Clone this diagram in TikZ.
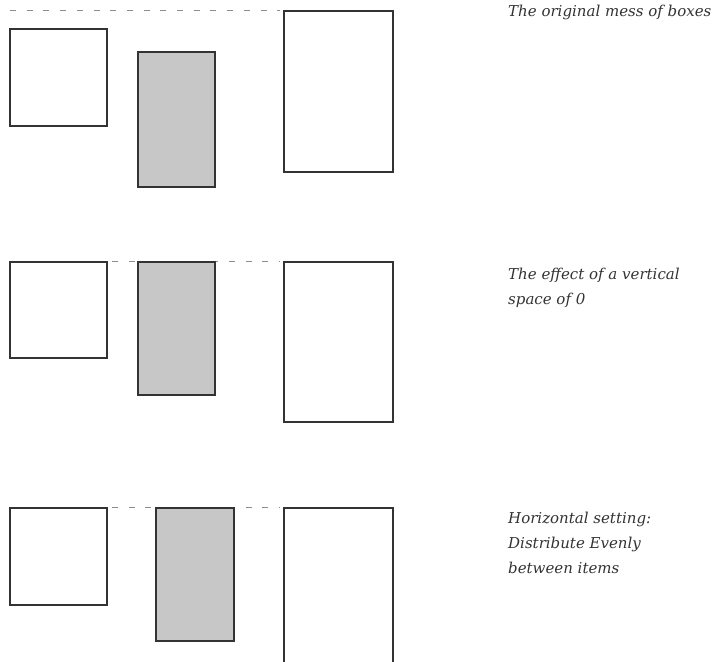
\documentclass[tikz,border=0pt]{standalone}
\usepackage{fontspec}
\setmainfont{DejaVu Serif}
\begin{document}
\begin{tikzpicture}[x=1pt,y=-1pt,
  box/.style={draw=black!80, line width=2.2pt, fill=white},
  shaded/.style={box, fill=black!22},
  guide/.style={draw=black!45, line width=0.9pt, dash pattern=on 6pt off 10.7pt},
  caption/.style={anchor=base west, inner sep=0pt, text=black!80,
    font=\itshape\fontsize{15}{25}\selectfont, align=left}]
\useasboundingbox (0,0) rectangle (719,661);
\clip (0,0) rectangle (719,661);

% first row: boxes as originally placed
\coordinate (g1s) at (10,10);
\coordinate (g1e) at (280,10);
\draw[guide] (g1s) -- (g1e);
\node[box, minimum width=97pt, minimum height=97pt, inner sep=0pt, anchor=north west] (a1) at (9,28) {};
\node[shaded, minimum width=77pt, minimum height=135pt, inner sep=0pt, anchor=north west] (b1) at (137,51) {};
\node[box, minimum width=109pt, minimum height=161pt, inner sep=0pt, anchor=north west] (c1) at (283,10) {};
\node[caption] (t1) at (508,17) {The original mess of boxes};

% second row: vertical space of 0 (base anchor sits on the last line)
\coordinate (g2s) at (112,261);
\coordinate (g2e) at (280,261);
\draw[guide] (g2s) -- (g2e);
\node[box, minimum width=97pt, minimum height=96pt, inner sep=0pt, anchor=north west] (a2) at (9,261) {};
\node[shaded, minimum width=77pt, minimum height=133pt, inner sep=0pt, anchor=north west] (b2) at (137,261) {};
\node[box, minimum width=109pt, minimum height=160pt, inner sep=0pt, anchor=north west] (c2) at (283,261) {};
\node[caption] (t2) at (508,304) {The effect of a vertical\\space of 0};

% third row: horizontal distribution
\coordinate (g3s) at (112,507);
\coordinate (g3e) at (280,507);
\draw[guide] (g3s) -- (g3e);
\node[box, minimum width=97pt, minimum height=97pt, inner sep=0pt, anchor=north west] (a3) at (9,507) {};
\node[shaded, minimum width=78pt, minimum height=133pt, inner sep=0pt, anchor=north west] (b3) at (155,507) {};
\node[box, minimum width=109pt, minimum height=170pt, inner sep=0pt, anchor=north west] (c3) at (283,507) {};
\node[caption] (t3) at (508,573) {Horizontal setting:\\Distribute Evenly\\between items};
\end{tikzpicture}
\end{document}
